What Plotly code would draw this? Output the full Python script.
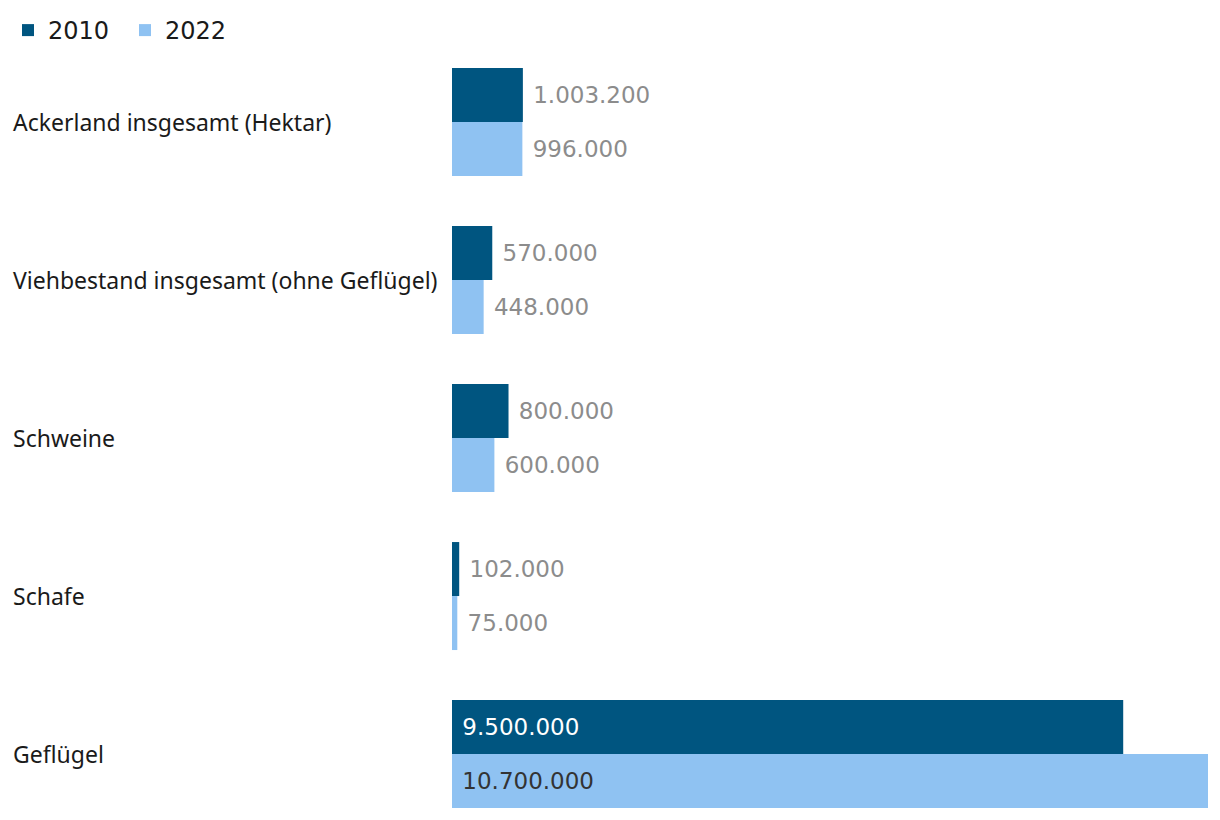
import plotly.graph_objects as go

categories = [
    "Ackerland insgesamt (Hektar)",
    "Viehbestand insgesamt (ohne Geflügel)",
    "Schweine",
    "Schafe",
    "Geflügel",
]
values_2010 = [1003200, 570000, 800000, 102000, 9500000]
values_2022 = [996000, 448000, 600000, 75000, 10700000]
series_names = ["2010", "2022"]

C2010 = "#005580"
C2022 = "#8fc2f2"
GRAY = "#8c8c8c"
FONT_LBL = "Noto Sans"
FONT_VAL = "DejaVu Sans"

positions = ["outside", "outside", "outside", "outside", "inside"]

fig = go.Figure()
for name, vals, col, inside_col in [
    (series_names[0], values_2010, C2010, "#ffffff"),
    (series_names[1], values_2022, C2022, "#333333"),
]:
    fig.add_trace(go.Bar(
        name=name,
        y=categories,
        x=vals,
        orientation="h",
        marker=dict(color=col, line=dict(width=0)),
        texttemplate="\u00a0%{x:,.0f}",
        textposition=positions,
        insidetextanchor="start",
        insidetextfont=dict(color=inside_col, size=23, family=FONT_VAL),
        outsidetextfont=dict(color=GRAY, size=23, family=FONT_VAL),
        constraintext="none",
        cliponaxis=False,
        hoverinfo="skip",
    ))

annotations = []
for cat in categories:
    annotations.append(dict(
        x=-0.5834, xref="paper", y=cat, yref="y",
        text=cat, showarrow=False, xanchor="left", yanchor="middle",
        font=dict(size=23, family=FONT_LBL, color="#1a1a1a"),
    ))

fig.update_layout(
    width=1220, height=820,
    margin=dict(l=444, r=20, t=56, b=12),
    paper_bgcolor="white", plot_bgcolor="white",
    barmode="group", bargap=0.3165, bargroupgap=0,
    separators=",.",
    showlegend=True,
    legend=dict(orientation="h", xref="container", yref="container",
                x=0.0, xanchor="left", y=1.0, yanchor="top",
                font=dict(size=24, family=FONT_VAL, color="#1a1a1a"),
                itemwidth=30, entrywidth=72, entrywidthmode="pixels",
                traceorder="normal"),
    xaxis=dict(range=[0, 10700000], visible=False, fixedrange=True),
    yaxis=dict(range=[4.392, -0.367], showticklabels=False, showgrid=False,
               zeroline=False, showline=False, ticks=""),
    annotations=annotations,
)

fig.write_html("out.html")
